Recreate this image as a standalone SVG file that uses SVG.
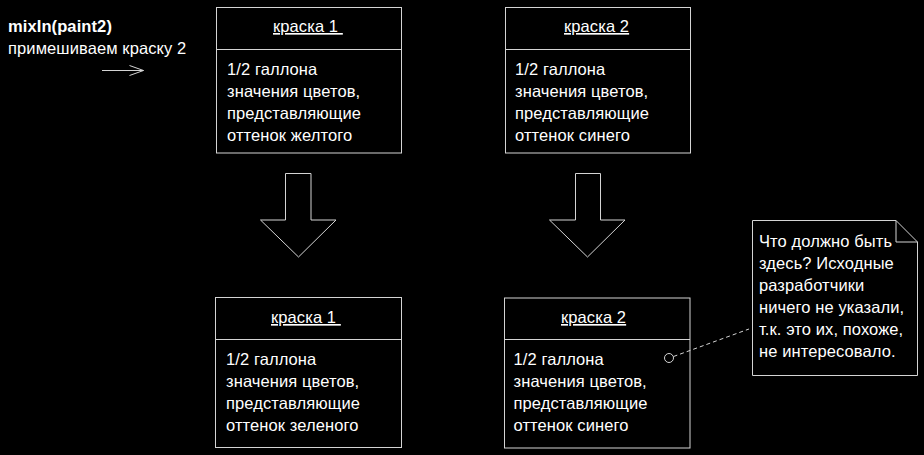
<svg xmlns="http://www.w3.org/2000/svg" width="924" height="455" viewBox="0 0 924 455">
<style>
text{font-family:"Liberation Sans",Arial,sans-serif;font-size:16.5px;letter-spacing:0.1px;fill:#fff}
.b{font-weight:bold}
.u{text-decoration:underline}
.ln{fill:none;stroke:#d4d4d4;stroke-width:1}
.bg{fill:#000;stroke:#d4d4d4;stroke-width:1}
</style>
<defs>
<marker id="open" markerWidth="16" markerHeight="12" refX="15" refY="6" orient="auto" markerUnits="userSpaceOnUse">
<path d="M1,1 L15,6 L1,11" fill="none" stroke="#d4d4d4" stroke-width="1"/>
</marker>
</defs>
<rect width="924" height="455" fill="#000"/>
<g id="msg">
<text class="b" x="8" y="32">mixIn(paint2)</text>
<text x="8" y="54">примешиваем краску 2</text>
</g>
<g id="paint1-before">
<rect class="bg" x="216.5" y="7.5" width="185" height="145.5"/>
<line class="ln" x1="216.5" y1="49.5" x2="401.5" y2="49.5"/>
<text class="u" x="273" y="32" xml:space="preserve">краска 1 </text>
<text x="227" y="75">1/2 галлона</text>
<text x="227" y="97">значения цветов,</text>
<text x="227" y="119">представляющие</text>
<text x="227" y="141">оттенок желтого</text>
</g>
<g id="paint2-before">
<rect class="bg" x="505.5" y="7.5" width="185" height="145.5"/>
<line class="ln" x1="505.5" y1="49.5" x2="690.5" y2="49.5"/>
<text class="u" x="564" y="32">краска 2</text>
<text x="515" y="75">1/2 галлона</text>
<text x="515" y="97">значения цветов,</text>
<text x="515" y="119">представляющие</text>
<text x="515" y="141">оттенок синего</text>
</g>
<g id="paint1-after">
<rect class="bg" x="215.5" y="297.5" width="186" height="150"/>
<line class="ln" x1="215.5" y1="339.5" x2="401.5" y2="339.5"/>
<text class="u" x="271" y="323" xml:space="preserve">краска 1 </text>
<text x="226" y="365">1/2 галлона</text>
<text x="226" y="387">значения цветов,</text>
<text x="226" y="409">представляющие</text>
<text x="226" y="431">оттенок зеленого</text>
</g>
<g id="paint2-after">
<rect class="bg" x="504.5" y="298" width="185.5" height="150"/>
<line class="ln" x1="504.5" y1="339.5" x2="690" y2="339.5"/>
<text class="u" x="561" y="323">краска 2</text>
<text x="513.5" y="365">1/2 галлона</text>
<text x="513.5" y="387">значения цветов,</text>
<text x="513.5" y="409">представляющие</text>
<text x="513.5" y="431">оттенок синего</text>
</g>
<g id="note">
<path class="bg" d="M752.5,220.5 H896 L917.5,242 V375.5 H752.5 Z"/>
<path class="ln" d="M896,220.5 V242 H917.5"/>
<text x="759" y="247">Что должно быть</text>
<text x="759" y="269">здесь? Исходные</text>
<text x="759" y="291">разработчики</text>
<text x="759" y="313">ничего не указали,</text>
<text x="759" y="335">т.к. это их, похоже,</text>
<text x="759" y="357">не интересовало.</text>
</g>
<g id="connectors">
<line class="ln" x1="102" y1="70.5" x2="143.5" y2="70.5" marker-end="url(#open)"/>
<polygon class="ln" points="285.5,173.5 311,173.5 311,220 336,220 298.5,257 260.5,220 285.5,220"/>
<polygon class="ln" points="575.5,173.5 600.5,173.5 600.5,220 625,220 587.5,257 549.5,220 575.5,220"/>
<circle class="ln" cx="669" cy="358" r="4.5"/>
<line class="ln" x1="673.5" y1="356.5" x2="749" y2="329" stroke-dasharray="4,3"/>
</g>
</svg>
